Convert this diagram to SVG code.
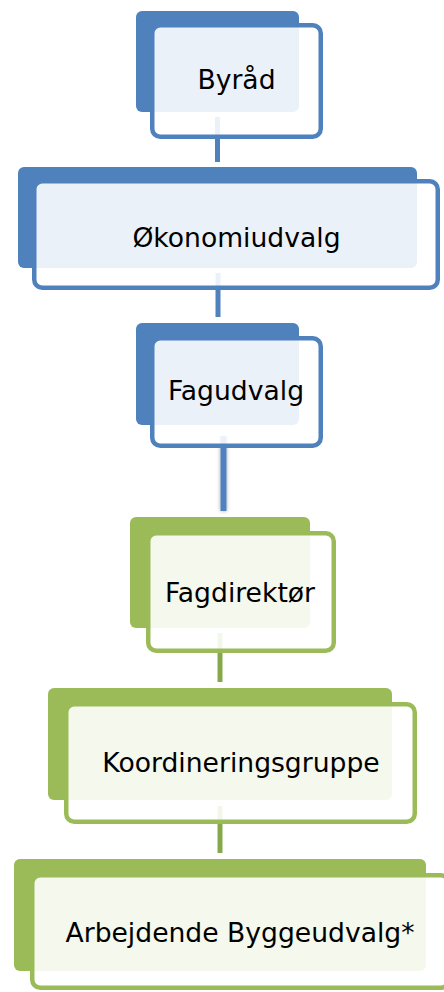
<svg xmlns="http://www.w3.org/2000/svg" width="444" height="992" viewBox="0 0 444 992">
<defs>
<style>
.bb{fill:#4F81BD}
.bg{fill:#9BBB59}
.fb{fill:#FFFFFF;fill-opacity:0.89;stroke:#4F81BD;stroke-width:4.5}
.fg{fill:#FFFFFF;fill-opacity:0.89;stroke:#9BBB59;stroke-width:4.5}
.t{font-family:"DejaVu Sans","Verdana",sans-serif;font-size:26.6px;fill:#000000;text-anchor:middle}
.cb{stroke:#4F81BD;stroke-width:5;fill:none}
.cg{stroke:#87A84A;stroke-width:5;fill:none}
</style>
<filter id="sh" filterUnits="userSpaceOnUse" x="205" y="425" width="40" height="100">
<feGaussianBlur in="SourceAlpha" stdDeviation="2"/>
<feComponentTransfer><feFuncA type="linear" slope="0.35"/></feComponentTransfer>
<feMerge><feMergeNode/><feMergeNode in="SourceGraphic"/></feMerge>
</filter>
</defs>
<rect width="444" height="992" fill="#FFFFFF"/>
<g id="connectors">
<line class="cb" x1="217.5" y1="117" x2="217.5" y2="162"/>
<line class="cb" x1="218" y1="273" x2="218" y2="317"/>
<rect x="220.5" y="436" width="6" height="75" fill="#4F81BD" filter="url(#sh)"/>
<line class="cg" x1="220" y1="633" x2="220" y2="682" stroke="#77933C"/>
<line class="cg" x1="220" y1="806" x2="220" y2="853"/>
</g>
<g id="byraad">
<rect class="bb" x="136" y="11" width="163" height="101" rx="6"/>
<rect class="fb" x="152.25" y="25.25" width="168.5" height="111.5" rx="8"/>
<text class="t" x="236.5" y="89">Byråd</text>
</g>
<g id="okonomiudvalg">
<rect class="bb" x="18" y="167" width="399" height="101" rx="6"/>
<rect class="fb" x="34.25" y="181.25" width="403.5" height="106.5" rx="8"/>
<text class="t" x="236.5" y="247">Økonomiudvalg</text>
</g>
<g id="fagudvalg">
<rect class="bb" x="136" y="323" width="163" height="102" rx="6"/>
<rect class="fb" x="152.25" y="338.25" width="168.5" height="107.5" rx="8"/>
<text class="t" x="236" y="400">Fagudvalg</text>
</g>
<g id="fagdirektor">
<rect class="bg" x="130" y="517" width="180" height="111" rx="6"/>
<rect class="fg" x="148.25" y="533.25" width="185.5" height="117.5" rx="8"/>
<text class="t" x="240" y="602">Fagdirektør</text>
</g>
<g id="koordineringsgruppe">
<rect class="bg" x="48" y="688" width="344" height="112" rx="6"/>
<rect class="fg" x="66.25" y="704.25" width="348.5" height="117.5" rx="8"/>
<text class="t" x="241" y="772">Koordineringsgruppe</text>
</g>
<g id="arbejdende-byggeudvalg">
<rect class="bg" x="14" y="859" width="412" height="112" rx="6"/>
<rect class="fg" x="32.25" y="875.25" width="416.5" height="112.5" rx="8"/>
<text class="t" x="240" y="942">Arbejdende Byggeudvalg*</text>
</g>
</svg>
